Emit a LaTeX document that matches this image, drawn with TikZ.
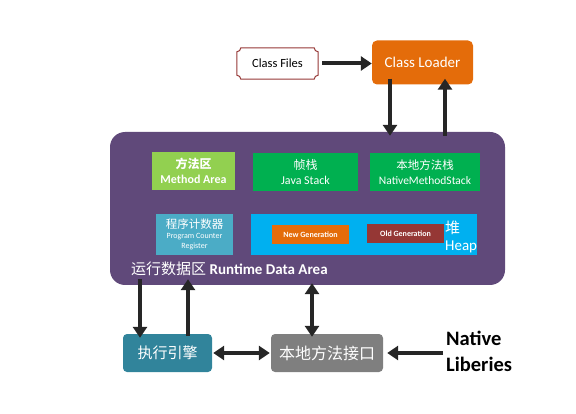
\documentclass[tikz,border=0pt]{standalone}
\usepackage{fontspec}
\setmainfont{Carlito}
\newfontfamily\cjk{Noto Sans CJK SC}
\usetikzlibrary{arrows.meta, positioning, calc}
\definecolor{jvmpurple}{RGB}{96, 73, 122}
\definecolor{loaderorange}{RGB}{228, 108, 10}
\definecolor{methodgreen}{RGB}{146, 208, 80}
\definecolor{stackgreen}{RGB}{0, 176, 80}
\definecolor{pcteal}{RGB}{75, 172, 198}
\definecolor{heapcyan}{RGB}{0, 176, 240}
\definecolor{oldred}{RGB}{149, 55, 53}
\definecolor{enginecyan}{RGB}{49, 132, 155}
\definecolor{ifacegray}{RGB}{127, 127, 127}
\definecolor{arrowblack}{RGB}{38, 38, 38}

\tikzset{
  box/.style={text=white, align=center, inner sep=0pt},
  bigarrow/.style={draw=arrowblack, line width=4pt, -{Triangle[length=11pt, width=14pt]}},
  bigdouble/.style={draw=arrowblack, line width=4pt, {Triangle[length=11pt, width=14pt]}-{Triangle[length=11pt, width=14pt]}}
}

\begin{document}
\begin{tikzpicture}[x=1pt, y=-1pt]
  \useasboundingbox (0,0) rectangle (576,414);

  % loader part
  \node[inner sep=0pt, minimum width=81pt, minimum height=31pt, font=\fontsize{12.5}{14}\selectfont] (cf) at (277.5,63.5) {Class Files};
  \draw[oldred, line width=1pt]
    ($(cf.north west)+(4,0)$) -- ($(cf.north east)+(-4,0)$) arc[start angle=180, end angle=90, radius=4]
    -- ($(cf.south east)+(0,-4)$) arc[start angle=270, end angle=180, radius=4]
    -- ($(cf.south west)+(4,0)$) arc[start angle=0, end angle=-90, radius=4]
    -- ($(cf.north west)+(0,4)$) arc[start angle=90, end angle=0, radius=4] -- cycle;
  \node[box, fill=loaderorange, rounded corners=5pt, minimum width=101pt, minimum height=44pt, font=\fontsize{15}{17}\selectfont] (cl) at (422.5,62.5) {Class Loader};

  % runtime data area
  \node[fill=jvmpurple, rounded corners=15pt, minimum width=395pt, minimum height=153pt] (rda) at (307.5,208.5) {};
  \node[box, fill=methodgreen, minimum width=83pt, minimum height=38pt, font=\fontsize{12}{15}\selectfont\bfseries] (ma) at (193.5,171) {{\cjk 方法区}\\Method Area};
  \node[box, fill=stackgreen, minimum width=105pt, minimum height=38pt, font=\fontsize{12}{15}\selectfont] (js) at (305.5,172) {{\cjk 帧栈}\\Java Stack};
  \node[box, fill=stackgreen, minimum width=110pt, minimum height=38pt, font=\fontsize{11.5}{15}\selectfont] (nms) at (425,172) {{\cjk 本地方法栈}\\NativeMethodStack};
  \node[box, fill=pcteal, minimum width=77pt, minimum height=41pt, font=\fontsize{8}{10}\selectfont] (pc) at (194.5,234.5) {{\cjk\fontsize{11.5}{13}\selectfont 程序计数器}\\Program Counter\\Register};
  \node[fill=heapcyan, minimum width=226pt, minimum height=41pt, inner sep=0pt] (heap) at (364,234.5) {};
  \node[box, fill=loaderorange, minimum width=77pt, minimum height=19pt, font=\fontsize{8}{10}\selectfont\bfseries] (ng) at (310.5,234.5) {New Generation};
  \node[box, fill=oldred, minimum width=77pt, minimum height=19pt, font=\fontsize{8}{10}\selectfont\bfseries] (og) at (405.5,233.5) {Old Generation};
  \node[box, align=left, anchor=west, font=\fontsize{15}{17}\selectfont] (heaplbl) at (445,237) {{\cjk 堆}\\Heap};
  \node[box, anchor=west, font=\fontsize{15}{17}\selectfont] (rdalbl) at (131,269) {{\cjk 运行数据区} \textbf{Runtime Data Area}};

  % execution part
  \node[box, fill=enginecyan, rounded corners=4pt, minimum width=89pt, minimum height=38pt, font=\cjk\fontsize{15}{17}\selectfont] (ee) at (167.5,353) {执行引擎};
  \node[box, fill=ifacegray, rounded corners=4pt, minimum width=112pt, minimum height=38pt, font=\cjk\fontsize{16}{18}\selectfont] (nmi) at (327,353) {本地方法接口};
  \node[align=left, anchor=west, inner sep=0pt, font=\fontsize{20.5}{26}\selectfont\bfseries] (nl) at (446,351) {Native\\Liberies};

  % connectors
  \draw[bigarrow] ([xshift=4pt]cf.east) -- (cf.east -| cl.west);
  \draw[bigarrow] ([xshift=-32.5pt, yshift=6pt]cl.south) -- ([xshift=82.5pt, yshift=-4pt]rda.north);
  \draw[bigarrow] ([xshift=137.5pt, yshift=-4pt]rda.north) -- ([xshift=22.5pt, yshift=6pt]cl.south);
  \draw[bigarrow] ([xshift=-167.5pt, yshift=6pt]rda.south) -- ([xshift=-27.5pt, yshift=-4pt]ee.north);
  \draw[bigarrow] ([xshift=20.5pt, yshift=-2pt]ee.north) -- ([xshift=-119.5pt, yshift=6pt]rda.south);
  \draw[bigdouble] ([xshift=4.5pt, yshift=2pt]rda.south) -- ([xshift=-15pt, yshift=-3pt]nmi.north);
  \draw[bigdouble] ([xshift=1pt]ee.east) -- ([xshift=-1pt]nmi.west);
  \draw[bigarrow] ([xshift=-3pt]nl.west |- nmi.east) -- ([xshift=4pt]nmi.east);
\end{tikzpicture}
\end{document}
